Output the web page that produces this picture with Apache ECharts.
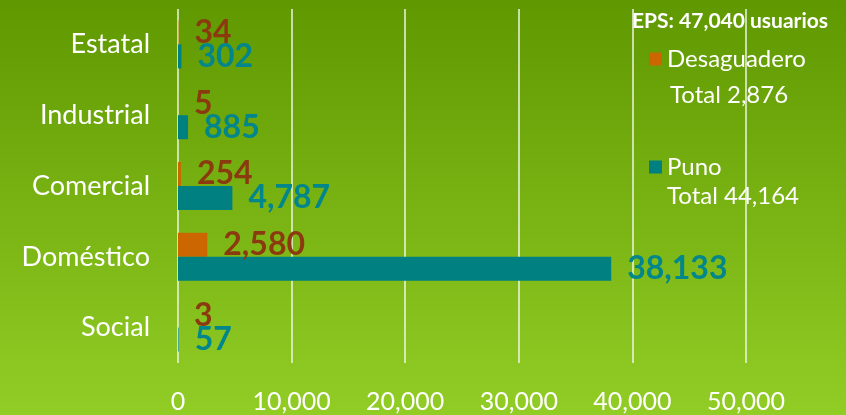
<!DOCTYPE html>
<html>
<head>
<meta charset="utf-8">
<script src="https://cdn.jsdelivr.net/npm/echarts@6/dist/echarts.min.js"></script>
<style>
  html, body { margin: 0; padding: 0; }
  #myChart { width: 846px; height: 415px; }
</style>
</head>
<body>
<div id="myChart"></div>
<script>
// datos (de abajo hacia arriba)
var categorias = ['Social', 'Doméstico', 'Comercial', 'Industrial', 'Estatal'];
var desaguadero = [3, 2580, 254, 5, 34];
var puno = [57, 38133, 4787, 885, 302];
var ticksX = [0, 10000, 20000, 30000, 40000, 50000];

var fuente = 'Lato, "Open Sans", sans-serif';
var fmt = function (v) { return v.toLocaleString('en-US'); };
var suma = function (a) { return a.reduce(function (s, v) { return s + v; }, 0); };

var totalDes = suma(desaguadero);
var totalPuno = suma(puno);

var chart = echarts.init(document.getElementById('myChart'));
chart.setOption({
    backgroundColor: {
        type: 'linear', x: 0, y: 0, x2: 0, y2: 1,
        colorStops: [
            { offset: 0, color: '#5f9800' },
            { offset: 1, color: '#92cd26' }
        ]
    },
    title: {
        text: 'EPS: ' + fmt(totalDes + totalPuno) + ' usuarios',
        left: 627,
        top: 6,
        textStyle: { color: '#ffffff', fontSize: 21, fontWeight: 'bold', fontFamily: fuente }
    },
    legend: {
        orient: 'vertical',
        left: 644,
        top: 42,
        itemWidth: 13,
        itemHeight: 13,
        itemGap: 84,
        icon: 'rect',
        data: ['Desaguadero', 'Puno'],
        textStyle: { color: '#ffffff', fontSize: 24, fontFamily: fuente }
    },
    graphic: [
        { type: 'text', left: 670, top: 83, style: { text: 'Total ' + fmt(totalDes), fill: '#ffffff', fontSize: 24, fontFamily: fuente } },
        { type: 'text', left: 667, top: 184, style: { text: 'Total ' + fmt(totalPuno), fill: '#ffffff', fontSize: 24, fontFamily: fuente } }
    ],
    grid: { left: 178, right: 100, top: 9, bottom: 52 },
    xAxis: {
        type: 'value',
        min: 0,
        max: 50000,
        interval: 10000,
        axisLine: { show: false },
        axisTick: { show: false },
        splitLine: { lineStyle: { color: '#eef4e0', width: 1.5 } },
        axisLabel: {
            color: '#ffffff',
            fontSize: 25,
            fontFamily: fuente,
            margin: 26,
            formatter: function (v) { return ticksX.indexOf(v) >= 0 ? fmt(v) : ''; }
        }
    },
    yAxis: {
        type: 'category',
        data: categorias,
        axisLine: { show: false },
        axisTick: { show: false },
        axisLabel: { color: '#ffffff', fontSize: 27, fontFamily: fuente, margin: 28 }
    },
    series: [
        {
            name: 'Desaguadero',
            type: 'bar',
            data: desaguadero,
            barWidth: 24,
            barGap: '0%',
            itemStyle: { color: '#cc6600' },
            label: {
                show: true, position: 'right', distance: 16,
                color: '#8b3a10', fontSize: 32, fontWeight: 'bold', fontFamily: fuente,
                formatter: function (p) { return fmt(p.value); }
            }
        },
        {
            name: 'Puno',
            type: 'bar',
            data: puno,
            barWidth: 24,
            barGap: '0%',
            itemStyle: { color: '#008080' },
            label: {
                show: true, position: 'right', distance: 16,
                color: '#00868b', fontSize: 32, fontWeight: 'bold', fontFamily: fuente,
                formatter: function (p) { return fmt(p.value); }
            }
        }
    ]
});
</script>
</body>
</html>
